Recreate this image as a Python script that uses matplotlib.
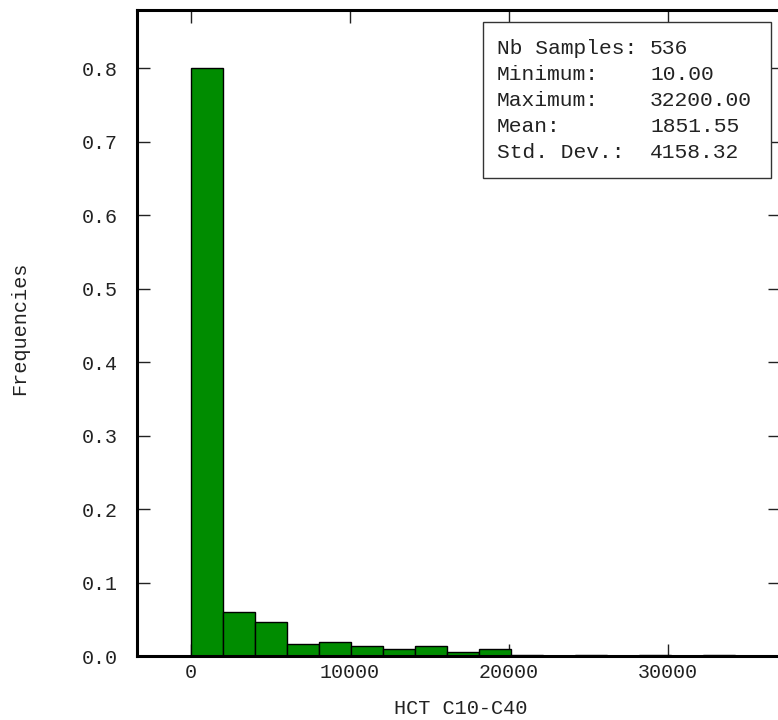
import numpy as np
import matplotlib
matplotlib.use("Agg")
import matplotlib.pyplot as plt
from matplotlib.patches import Rectangle

# ---- data ----
n_samples = 536
v_min = 10.0
v_max = 32200.0
v_mean = 1851.55
v_std = 4158.32
n_bins = 16
counts = [429, 32, 25, 9, 10, 7, 5, 7, 3, 5, 1, 0, 1, 0, 1, 0, 1]
x_ticks = [0, 10000, 20000, 30000]
y_ticks = [0.0, 0.1, 0.2, 0.3, 0.4, 0.5, 0.6, 0.7, 0.8]
x_label = "HCT C10-C40"
y_label = "Frequencies"

bin_w = (v_max - v_min) / n_bins
lefts = v_min + bin_w * np.arange(len(counts))
freqs = np.array(counts) / n_samples

W, H = 778, 720
plt.rcParams['font.family'] = ['Liberation Mono', 'DejaVu Sans Mono']
fig = plt.figure(figsize=(W / 100, H / 100), dpi=100)
ax = fig.add_axes([137 / W, 1 - 656 / H, (780 - 137) / W, (656 - 10) / H])

ax.bar(lefts, freqs, width=bin_w, align='edge', color='#008c00',
       edgecolor='black', linewidth=1.0, zorder=2)

ax.set_xlim(-3375, 37040)
ax.set_ylim(0, 0.879)
ax.set_xticks(x_ticks)
ax.set_xticklabels([str(t) for t in x_ticks])
ax.set_yticks(y_ticks)
ax.set_yticklabels([f"{t:.1f}" for t in y_ticks])

for s in ax.spines.values():
    s.set_linewidth(2.2)
ax.tick_params(direction='in', length=9, width=1.0, top=True, right=True,
               labelsize=14.4, colors='#222222')
ax.tick_params(axis='y', pad=14)
ax.tick_params(axis='x', pad=5)
for t in ax.get_xticklabels() + ax.get_yticklabels():
    t.set_color('#222222')

fig.text(392 / W + (530 - 392) / (2 * W), 1 - 709 / H, x_label, fontsize=14.6,
         ha='center', va='center', color='#222222')
fig.text(20 / W, 1 - 328 / H, y_label, fontsize=14.6, rotation=90,
         ha='center', va='center', color='#222222')

# stats box
box = Rectangle((483 / W, 1 - 178 / H), (771 - 483) / W, (178 - 22) / H,
                transform=fig.transFigure, facecolor='white',
                edgecolor='#333333', linewidth=1.0, zorder=5)
fig.patches.append(box)
rows = [("Nb Samples:", f"{n_samples}"),
        ("Minimum:", f"{v_min:.2f}"),
        ("Maximum:", f"{v_max:.2f}"),
        ("Mean:", f"{v_mean:.2f}"),
        ("Std. Dev.:", f"{v_std:.2f}")]
y0 = 49
dy = 26
for i, (lab, val) in enumerate(rows):
    yy = 1 - (y0 + i * dy) / H
    fig.text(497 / W, yy, lab, fontsize=15.3, ha='left', va='center',
             color='#222222', zorder=6)
    fig.text(650 / W, yy, val, fontsize=15.3, ha='left', va='center',
             color='#222222', zorder=6)

fig.savefig("out.png", dpi=100)
